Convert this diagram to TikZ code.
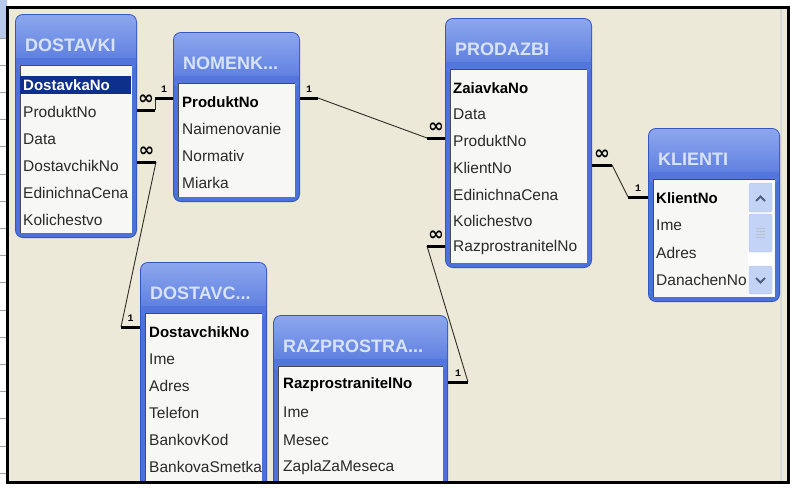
\documentclass[tikz,border=0pt]{standalone}
\usepackage{fontspec}
\setmainfont{Liberation Sans}
\newfontfamily\symfont{DejaVu Sans}
\newfontfamily\relfont{Liberation Mono}
\usepackage{tikz}
\usetikzlibrary{
	positioning,    % relative placement
	shadings        % title bars
}

\definecolor{deskbg}{HTML}{ECE9D8}
\definecolor{winblue}{HTML}{4D71DA}
\definecolor{winedge}{HTML}{3456C2}
\definecolor{titletop}{HTML}{8CA7EE}
\definecolor{titlebot}{HTML}{5476DC}
\definecolor{titletxt}{HTML}{D8E3F8}
\definecolor{listbg}{HTML}{F7F7F5}
\definecolor{listedge}{HTML}{4A4A4A}
\definecolor{fieldtxt}{HTML}{2A2A2A}
\definecolor{selblue}{HTML}{0E2F8C}
\definecolor{linkgray}{HTML}{2E2E26}
\definecolor{stripblue}{HTML}{B8CAEC}
\definecolor{gridgray}{HTML}{A0A0A0}
\definecolor{sbbtn}{HTML}{C3D3F6}
\definecolor{sbedge}{HTML}{A9BEEB}
\definecolor{sbarrow}{HTML}{4D6185}

% one table window: name, x, y, width, height, title
\newcommand{\dbwin}[6]{%
	\begin{scope}[shift={(#2,#3)}]
		\fill[winedge, rounded corners=8pt] (0,0) rectangle (#4,#5);
		\fill[winblue, rounded corners=7pt] (1,1) rectangle (#4-1,#5-1);
		\shade[top color=titletop, bottom color=titlebot, rounded corners=7pt] (1,1) rectangle (#4-1,56);
		\fill[titlebot] (1,44) rectangle (#4-1,51);
		\fill[listbg] (5,51) rectangle (#4-5,#5-5);
		\draw[listedge, line width=1pt] (5,#5-5) -- (5,51) -- (#4-5,51);
		\node[wintitle] (#1) at (10,31) {#6};
	\end{scope}}

\begin{document}
\begin{tikzpicture}[
	x=1pt, y=-1pt,
	stub/.style={line width=3pt, black},
	link/.style={line width=0.9pt, linkgray},
	wintitle/.style={anchor=west, inner sep=0pt, text=titletxt, font=\fontsize{18}{20}\selectfont\bfseries},
	field/.style={anchor=west, inner sep=0pt, text=fieldtxt, font=\fontsize{15.5}{18}\selectfont},
	keyfield/.style={field, text=black, font=\fontsize{15}{18}\selectfont\bfseries},
	manylbl/.style={inner sep=0pt, pos=0.5, yshift=10pt, font=\symfont\fontsize{19}{19}\selectfont\bfseries},
	onelbl/.style={inner sep=0pt, pos=0.5, yshift=9pt, font=\relfont\fontsize{10}{10}\selectfont\bfseries}
	]
	\useasboundingbox (0,0) rectangle (790,488);
	\fill[white] (0,0) rectangle (790,488);
	
	% --- grid strip on the left ---
	\fill[stripblue] (0,0) rectangle (7,38);
	\foreach \k in {0,...,16}
		\draw[gridgray, line width=0.8pt] (0,{38+27.2*\k}) -- (7,{38+27.2*\k});
	
	\begin{scope}
		\clip (7,7) rectangle (788,482);
		\fill[deskbg] (7,7) rectangle (788,482);
		\draw[gray!30, line width=1.5pt] (781,7) -- (781,482);
		
		% --- DOSTAVKI ---
		\dbwin{dk}{15}{14}{122}{224}{DOSTAVKI}
		\fill[selblue] (20,76) rectangle (131,94);
		\node[field, text=white, font=\fontsize{15}{18}\selectfont\bfseries] (dk1) at (23,85) {DostavkaNo};
		\foreach \f [count=\i from 2] in {ProduktNo,Data,DostavchikNo,EdinichnaCena,Kolichestvo}
			\node[field] (dk\i) at (23,{58+27*\i}) {\f};
		
		% --- NOMENK... ---
		\dbwin{nm}{173}{32}{127}{170}{NOMENK...}
		\node[keyfield] (nm1) at (182,102) {ProduktNo};
		\foreach \f [count=\i from 2] in {Naimenovanie,Normativ,Miarka}
			\node[field] (nm\i) at (182,{75+27*\i}) {\f};
		
		% --- PRODAZBI ---
		\dbwin{pz}{445}{18}{147}{250}{PRODAZBI}
		\node[keyfield] (pz1) at (453,88) {ZaiavkaNo};
		\foreach \f [count=\i from 2] in {Data,ProduktNo,KlientNo,EdinichnaCena,Kolichestvo,RazprostranitelNo}
			\node[field] (pz\i) at (453,{61+26.7*\i}) {\f};
		
		% --- KLIENTI ---
		\dbwin{kl}{648}{128}{132}{174}{KLIENTI}
		\node[keyfield] (kl1) at (656,198) {KlientNo};
		\foreach \f [count=\i from 2] in {Ime,Adres,DanachenNo}
			\node[field] (kl\i) at (656,{171+27.3*\i}) {\f};
		% scroll bar
		\fill[white] (748,181) rectangle (774,296);
		\draw[sbedge, fill=sbbtn, rounded corners=2pt] (749,183) rectangle (772,212);
		\draw[sbedge, fill=sbbtn, rounded corners=2pt] (749,214) rectangle (772,252);
		\draw[sbedge, fill=sbbtn, rounded corners=2pt] (749,266) rectangle (772,294);
		\foreach \g in {228,231,234,237}
			\draw[sbarrow!40!white, line width=0.8pt] (756,\g) -- (765,\g);
		\draw[sbarrow, line width=2pt] (756,201) -- (760.5,196.5) -- (765,201);
		\draw[sbarrow, line width=2pt] (756,278) -- (760.5,282.5) -- (765,278);
		
		% --- DOSTAVC... ---
		\dbwin{dc}{140}{262}{127}{240}{DOSTAVC...}
		\node[keyfield] (dc1) at (149,332) {DostavchikNo};
		\foreach \f [count=\i from 2] in {Ime,Adres,Telefon,BankovKod,BankovaSmetka}
			\node[field] (dc\i) at (149,{305+27*\i}) {\f};
		
		% --- RAZPROSTRA... ---
		\dbwin{rz}{273}{315}{175}{190}{RAZPROSTRA...}
		\node[keyfield] (rz1) at (283,385) {RazprostranitelNo};
		\foreach \f [count=\i from 2] in {Ime,Mesec,ZaplaZaMeseca}
			\node[field] (rz\i) at (283,{358+27.3*\i}) {\f};
		
		% --- relationship ends ---
		\coordinate (dkP) at (137,110);  \coordinate (dkPx) at (155,110);
		\coordinate (nmP) at (173,98);   \coordinate (nmPx) at (155,98);
		\coordinate (dkD) at (137,162);  \coordinate (dkDx) at (156,162);
		\coordinate (dcD) at (140,327);  \coordinate (dcDx) at (121,327);
		\coordinate (nmR) at (300,98);   \coordinate (nmRx) at (318,98);
		\coordinate (pzP) at (445,138);  \coordinate (pzPx) at (427,138);
		\coordinate (pzK) at (592,165);  \coordinate (pzKx) at (612,165);
		\coordinate (klK) at (648,197);  \coordinate (klKx) at (628,197);
		\coordinate (pzR) at (445,246);  \coordinate (pzRx) at (427,246);
		\coordinate (rzR) at (448,382);  \coordinate (rzRx) at (468,382);
		
		% --- relationships ---
		\draw[link] (dkPx) -- (nmPx);
		\draw[link] (dkDx) -- (dcDx);
		\draw[link] (nmRx) -- (pzPx);
		\draw[link] (pzKx) -- (klKx);
		\draw[link] (pzRx) -- (rzRx);
		
		\draw[stub] (dkP) -- (dkPx) node[manylbl] {∞};
		\draw[stub] (nmP) -- (nmPx) node[onelbl] {1};
		\draw[stub] (dkD) -- (dkDx) node[manylbl] {∞};
		\draw[stub] (dcD) -- (dcDx) node[onelbl] {1};
		\draw[stub] (nmR) -- (nmRx) node[onelbl] {1};
		\draw[stub] (pzP) -- (pzPx) node[manylbl] {∞};
		\draw[stub] (pzK) -- (pzKx) node[manylbl] {∞};
		\draw[stub] (klK) -- (klKx) node[onelbl] {1};
		\draw[stub] (pzR) -- (pzRx) node[manylbl] {∞};
		\draw[stub] (rzR) -- (rzRx) node[onelbl] {1};
	\end{scope}
	
	% --- frame ---
	\draw[black, line width=3pt] (7,7) rectangle (788,482);
\end{tikzpicture}
\end{document}
